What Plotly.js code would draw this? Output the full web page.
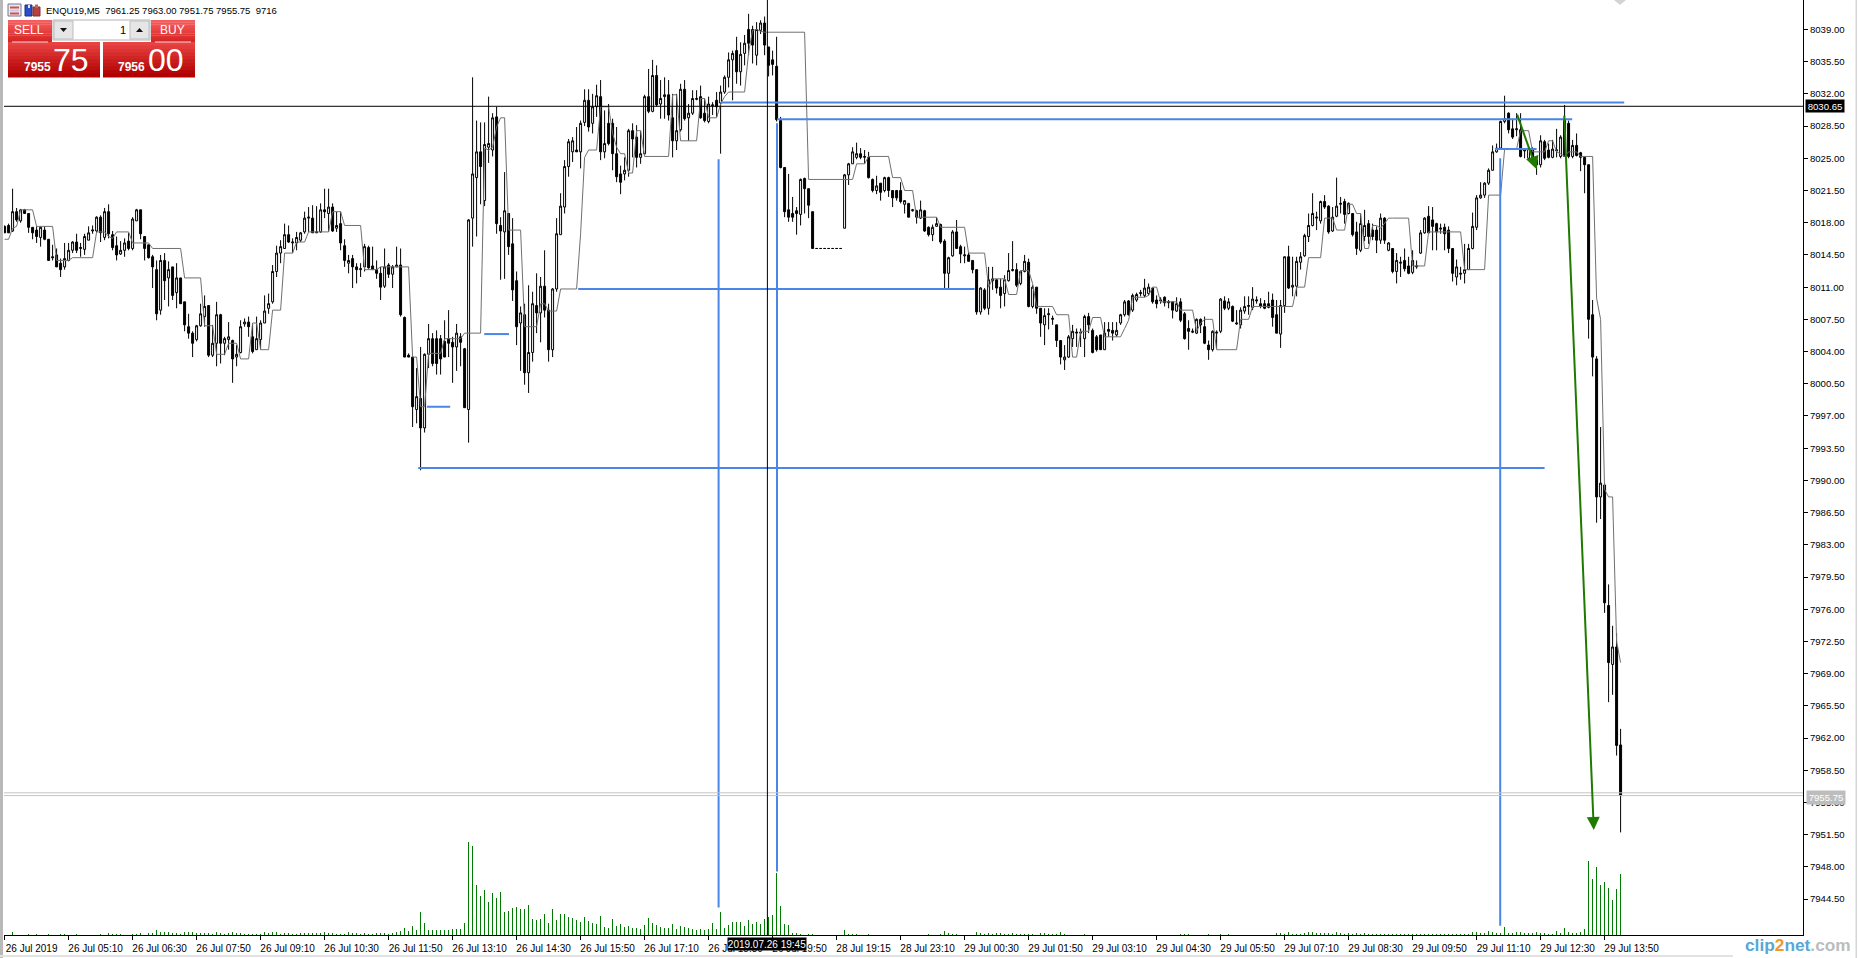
<!DOCTYPE html>
<html><head><meta charset="utf-8">
<script src="https://cdn.plot.ly/plotly-3.0.1.min.js"></script>
<style>html,body{margin:0;padding:0;background:#fff;overflow:hidden}#c{width:1858px;height:958px}</style>
</head><body><div id="c"></div>
<script>
const opens=[
8017.6,8017.7,8017.1,8019.2,8018.2,8019.4,8019,8017.5,8017.2,8016.4,
8017.2,8016.2,8014.3,8014.5,8013.6,8013.2,8013.9,8015,8015.9,8015.2,
8015.1,8016.1,8017.1,8017.1,8018.6,8016.4,8019.2,8016.7,8015.5,8014.6,
8015,8016,8015.2,8018.2,8019.4,8016.5,8015.6,8014.3,8012.9,8008.5,
8013.9,8012,8013.2,8010.4,8012,8009.4,8006.7,8006,8005.3,8006.8,
8007.8,8009,8003.6,8004.9,8008,8004.9,8005.3,8005.2,8003.4,8003.9,
8007,8007.2,8005.6,8004.2,8005.3,8007.1,8008.7,8009.4,8012.7,8014.7,
8015.2,8016.7,8015.8,8015.8,8016.1,8017,8018.5,8018.5,8016.9,8017,
8019.4,8019,8019.7,8017.4,8017.9,8015.5,8013.6,8014.1,8013.2,8012.9,
8013.2,8015.3,8013.3,8012.9,8012.5,8011.1,8013.4,8012.4,8013.2,8013.4,
8007.7,8003.6,8003.4,7997.7,7998.9,7995.7,8003.7,8005.4,8005.4,8005.4,
8005.1,8005.4,8005,8004.5,8005.6,8004.3,7997.7,8018.5,8022.9,8025.7,
8020.4,8026.2,8025.9,8029.5,8017.7,8017,8019,8015.7,8011.7,8007.1,
8008,8001.7,8003.9,8009,8008.2,8011.1,8008.5,8004.2,8010.8,8016.7,
8019.7,8024.1,8025.7,8025.9,8025.7,8028.9,8031.3,8028.8,8030.6,8031.7,
8025.7,8028.8,8028.8,8025.5,8023.3,8023.3,8023.7,8028,8027.3,8025.1,
8025.5,8031.7,8030.1,8034,8030.9,8031.7,8031.9,8029.4,8026.9,8028.1,
8032.5,8029.4,8029.9,8031.4,8031.7,8029.9,8029,8030.7,8031.3,8031,
8032.2,8033.8,8035.7,8036.7,8034.4,8036.4,8039,8039,8036.2,8038.9,
8039.7,8037.1,8035.7,8035,8029.1,8024,8019.4,8019,8019.3,8018.9,
8022.8,8021.7,8019.2,8015.2,8015.2,8015.2,8015.2,8015.2,8015.2,8015.2,
8017.4,8023.2,8024.4,8025.1,8025.5,8025.1,8025.1,8022.7,8021.5,8022.3,
8021.5,8022.9,8021.5,8021.5,8021.5,8020,8020.1,8019.3,8019.3,8018.5,
8019.3,8017.5,8016.7,8017.6,8017.8,8016,8012.5,8014.4,8017,8015.4,
8014.4,8014.5,8013.9,8012.9,8008.3,8010.7,8008.7,8011.7,8011.8,8011,
8010.3,8011.7,8012.8,8012.9,8011.4,8012.7,8013.7,8008.9,8011,8008.7,
8006.9,8008,8007.5,8006.9,8005.2,8003.1,8003.4,8005.4,8006,8006,
8005.4,8007.8,8006.3,8005.6,8005.8,8004.2,8006.4,8006.3,8005.8,8007.1,
8008,8009.5,8008.5,8009.6,8010.3,8010.1,8010.3,8010.9,8009.6,8009.5,
8009.9,8009.3,8009.4,8008.4,8009.4,8008.1,8006.5,8006.1,8006,8007.5,
8006.7,8004.7,8004.2,8006,8006.2,8009.5,8008.7,8008.9,8007,8006.9,
8008.4,8008.9,8008.8,8009.5,8009.2,8009.2,8009.2,8009.6,8008,8005.9,
8009,8014.3,8011,8011.1,8013.7,8014.4,8016.5,8017.7,8018.5,8018.2,
8020.3,8019.8,8017.1,8018.7,8020,8020.3,8019,8019,8017,8015,
8016.5,8017.9,8017.2,8017.2,8016.1,8018.5,8015,8015.2,8012.7,8013.6,
8013.9,8013.3,8012.6,8013.2,8014.7,8016.9,8018.7,8018.3,8017.9,8017.3,
8017.5,8017.2,8015.2,8012.1,8012.4,8012.5,8012.9,8015.2,8017.5,8020.7,
8021,8022.3,8023.7,8025.7,8026.1,8029,8029.9,8028.2,8028.1,8028.1,
8025.8,8025,8025.9,8024.8,8024.3,8026.8,8025.9,8025.1,8025.8,8025.2,
8029.1,8028.8,8025.2,8026.4,8025.6,8025.1,8024.3,8008,8003.2,7988.2,
7989.5,7976.4,7970,7971.9,7961.25];
const highs=[
8017.7,8017.9,8021.7,8019.6,8019.5,8019.5,8019,8017.5,8017.6,8017.6,
8017.6,8016.2,8015.6,8015.2,8014.1,8015.8,8015.8,8016,8016.8,8015.8,
8016.8,8017.6,8017.7,8018.7,8018.8,8019.6,8020,8017.1,8016.5,8016,
8016.3,8016.9,8018.6,8019.5,8019.4,8016.5,8015.6,8014.5,8013.9,8014.5,
8014.7,8013.8,8013.2,8013.6,8012,8009.4,8008.1,8006.2,8006.9,8009.2,
8010.1,8009,8006.9,8009.4,8008.1,8005.6,8007.2,8005.3,8004.7,8007.4,
8007.6,8007.8,8007,8007.8,8007.4,8010.1,8010.3,8013.4,8015.5,8016.1,
8017.9,8017.7,8016.3,8017,8017,8019.2,8019.7,8019.9,8019.8,8020.1,
8021.7,8021.7,8020.1,8019.2,8019.2,8016.2,8014.5,8014.5,8013.6,8013.6,
8015.7,8015.5,8015.4,8013.9,8013.2,8015.2,8013.6,8013.4,8015.4,8015.2,
8007.8,8003.8,8003.4,8002.2,8004.5,8003.8,8007,8006,8006.3,8005.8,
8007.4,8008.5,8005.6,8007,8006,8004.4,8018.4,8033.8,8029.1,8028.9,
8028.9,8031.7,8029.9,8030.6,8018.6,8023.5,8019,8018.5,8012.7,8008.9,
8009.2,8011.2,8010.5,8012.5,8012.1,8015,8009.2,8010.9,8018.5,8021.2,
8024.8,8027.1,8027.3,8028.4,8029.1,8032.5,8032.5,8032,8033,8033.5,
8030.2,8030.9,8029.3,8028.4,8024.2,8025.1,8028.2,8028.8,8028.6,8028,
8031.9,8034.7,8035.7,8035.1,8033.5,8033.8,8033.5,8032,8032,8033.1,
8033.5,8030.9,8032.4,8032.4,8032.9,8031.5,8031.7,8031.1,8032.2,8032.9,
8034,8036.5,8036.7,8038.2,8037.6,8038.4,8040.7,8039.4,8039.8,8040,
8040.4,8037.1,8036.7,8038.2,8029.5,8024,8023.3,8020.8,8019.7,8022.8,
8022.9,8021.7,8019.2,8015.2,8015.2,8015.2,8015.2,8015.2,8015.2,8015.2,
8023.3,8024.5,8026.2,8026.7,8026.1,8025.9,8025.7,8022.8,8023.1,8022.3,
8023,8023,8021.5,8021.5,8022.4,8020.4,8020.1,8019.5,8019.4,8020.4,
8019.4,8017.6,8017.8,8018.6,8017.9,8016.2,8014.3,8017.2,8018.3,8015.6,
8015.4,8014.8,8013.9,8012.9,8011,8010.9,8013.2,8013.2,8011.9,8011.9,
8012.3,8014.7,8016,8013.6,8012.8,8014.5,8014.1,8011.2,8011,8008.7,
8008.7,8008.7,8007.9,8006.9,8005.2,8004.7,8005.8,8006.9,8006.5,8006.5,
8008,8008.2,8006.5,8005.8,8005.8,8007.2,8007.2,8007.2,8007.2,8008.1,
8009.6,8009.6,8010.3,8010.4,8010.7,8011.9,8011.4,8011,8010.1,8009.9,
8010,8009.6,8009.4,8009.9,8009.8,8008.3,8007.4,8006.5,8007.6,8007.6,
8007.8,8005.2,8006.3,8006.3,8009.8,8010,8009.8,8009,8008.5,8008.8,
8010,8010,8011,8010,8009.8,8009.6,8010.5,8010.3,8009.6,8009.6,
8014.3,8015.5,8014.3,8014.3,8014.8,8016.8,8019,8021.2,8019.2,8020.4,
8021,8019.9,8019.7,8022.9,8020.8,8020.6,8020.2,8019,8018.1,8019,
8019.4,8018.3,8017.9,8017.6,8019,8018.6,8015.9,8015.2,8014.7,8014.3,
8015.2,8014.3,8015,8013.9,8017.2,8018.6,8019.8,8019.7,8018,8017.9,
8017.9,8017.6,8015.2,8014,8013.2,8015.7,8015.7,8019.1,8021,8022.4,
8022.4,8023.9,8026.4,8026.6,8029.1,8031.8,8030,8029.3,8029.9,8029.9,
8026.1,8026.2,8026.2,8024.8,8027.5,8027,8026.6,8027,8028.2,8027.5,
8030.8,8029.1,8027,8027.7,8025.7,8025.2,8024.3,8009.6,8003.5,7995.8,
7989.7,7978.7,7974.2,7973.4,7963];
const lows=[
8016.9,8016.9,8017,8018.1,8018,8019,8016.9,8016.2,8015.8,8015.4,
8016.1,8013.9,8013.9,8013.2,8012.1,8012.9,8013.8,8014.7,8014.7,8014.3,
8014.5,8016.1,8016.8,8017,8015.9,8016.1,8016.3,8015,8013.9,8014.5,
8014.3,8015,8015,8018.2,8016.2,8013.9,8014.1,8010.9,8007.4,8008,
8009.6,8008.9,8009.6,8008.7,8009.2,8006.2,8005.4,8003.4,8005.1,8006.7,
8006.7,8003.4,8003.4,8002.4,8002.7,8003.6,8004.2,8000.6,8002.4,8003.8,
8006.7,8005.6,8003.8,8004.2,8004.2,8007.1,8008.1,8009.2,8012.1,8013.6,
8015.2,8015.8,8014.7,8015,8015.9,8016.8,8017,8016.9,8016.9,8016.9,
8018.5,8017,8017,8017,8015,8013.2,8012.5,8010.9,8011.4,8012.1,
8012.7,8013,8012.9,8011.9,8009.6,8010.9,8012,8010.9,8013.2,8007.8,
8003.4,8003.4,7995.8,7996.2,7991.1,7995.2,8002.2,8002.4,8001.5,8001.5,
8003.4,8003.4,8000.6,8001.9,8002.4,7997.9,7994.1,8015.4,8016.5,8020,
8019.8,8024.5,8025.2,8016.8,8011.8,8011.9,8014.5,8009.5,8004.7,8001.9,
8000.4,7999.5,8002.9,8006,8005,8007.7,8002.9,8003.4,8010.5,8016.7,
8019,8023,8024.6,8025.7,8023.9,8028.5,8027.9,8027.7,8029.5,8024.8,
8025,8026.4,8023.7,8022.4,8021.1,8022.6,8023,8025.1,8024,8024.4,
8025.3,8029.9,8030,8030.6,8029.3,8029.3,8029.1,8025.1,8025.9,8027.9,
8029.1,8026.9,8029.7,8031.3,8029.3,8028.9,8028.8,8029.7,8029.5,8025.5,
8032,8032.7,8031.3,8033.1,8032.9,8035.1,8036.2,8035.3,8035.1,8038.5,
8036.2,8033.9,8034,8029,8023.9,8018.6,8018.1,8018.1,8016.7,8017.7,
8019,8018.5,8015.2,8015.2,8015.2,8015.2,8015.2,8015.2,8015.2,8015.2,
8017.4,8022.1,8024.4,8024.9,8024.9,8024.4,8022.8,8021.3,8021.1,8020.4,
8021.3,8020.8,8019.7,8020.4,8020.1,8019,8018.6,8019.2,8017.9,8018.4,
8017,8016.5,8016,8017.6,8015.7,8010.9,8010.9,8014.3,8015.2,8013.6,
8013.6,8013.8,8012.5,8008,8008,8008.5,8008,8010.7,8010.3,8008.7,
8008.9,8011.6,8012.7,8011,8011.2,8012.6,8008.8,8008.7,8008.1,8005.6,
8004.7,8006.4,8006.9,8004.5,8002.6,8002,8003.3,8004.5,8004.5,8004.5,
8003.4,8006,8003.8,8004,8004.2,8004.2,8005.6,8005.2,8005.6,8006.9,
8007.8,8007.9,8008.3,8009.4,8010,8009.9,8010.1,8009.2,8008.7,8009.2,
8008.9,8008.7,8007.6,8008.3,8007.2,8005.3,8004.2,8006,8005.9,8006,
8004.8,8003.1,8004,8004.3,8006,8008.5,8008.5,8007.2,8006.9,8006.5,
8008.1,8008,8008.5,8009.2,8008.7,8008.6,8008.7,8006.7,8006,8004.4,
8008.2,8010.8,8010,8010,8012.9,8014.3,8015.9,8017.6,8017.2,8017.9,
8019.5,8016.8,8017,8018.6,8019,8017.9,8018.9,8016.5,8014.5,8014.8,
8016,8015.7,8016.1,8014.7,8015.7,8015.7,8014.9,8012.5,8011.4,8012.1,
8012.7,8012.4,8012.4,8013,8014.6,8016.8,8016.8,8015,8015,8016.8,
8015,8014.7,8011.6,8011.2,8011.8,8011.4,8012.9,8015.1,8017.2,8020.6,
8020.7,8022.1,8023.7,8025.6,8025.9,8028.8,8027.7,8027.1,8027.4,8025.1,
8025,8024.9,8024.5,8023.2,8024,8024.8,8025,8025,8025.1,8025,
8025.2,8025,8025,8025.2,8023.6,8021.2,8005.4,8001.3,7985.4,7985.8,
7975.6,7965.9,7966.7,7960.1,7951.75];
const closes=[
8016.9,8016.9,8019.2,8018.3,8019.4,8019,8017.5,8016.9,8016.5,8017.5,
8016.2,8013.9,8014.2,8013.2,8012.9,8014.1,8015,8015.9,8015,8015.3,
8016.5,8016.9,8017.2,8018.6,8016.9,8019.2,8016.8,8015.3,8014.5,8015,
8015.8,8015.2,8018.4,8019.4,8016.8,8015.2,8014.2,8013.2,8008.1,8013.9,
8011.7,8012.9,8010.1,8012,8009.2,8006.9,8006,8004.9,8006.8,8008.1,
8008.9,8003.6,8004.9,8008,8004.9,8005.4,8005.6,8003.2,8003.7,8006.7,
8007.2,8006.7,8004,8005.4,8007.1,8008.4,8009.2,8012.7,8014.7,8015.4,
8016.7,8015.9,8015.9,8016.4,8016.9,8018.5,8018.6,8016.9,8017,8019.4,
8019.2,8019.7,8017.1,8017.7,8015.8,8013.9,8013.9,8013.2,8012.9,8013,
8015.4,8013.1,8012.9,8012.5,8011,8013.2,8012.4,8013.2,8013.4,8008,
8003.4,8003.4,7998,7999.1,7995.7,8003.7,8005.4,8002.7,8002.7,8003.2,
8003.4,8004.9,8004.5,8006,8005,7997.9,8018.3,8023.3,8025.7,8024.1,
8026.5,8026.6,8029.4,8017.9,8017.1,8019.3,8015.4,8010.7,8006.7,8008.2,
8001.7,8003.9,8009.2,8008.2,8011.1,8008.5,8004.2,8010.8,8016.8,8019.8,
8024.1,8026.8,8026.9,8025.7,8028.8,8031.3,8028.4,8030.6,8031.8,8025.7,
8026.6,8026.6,8025.5,8023,8022.4,8023.7,8028,8027.1,8025.1,8025.5,
8031.7,8030.1,8034,8030.8,8031.5,8031.9,8029.7,8026.9,8028,8032.5,
8029.3,8029.9,8031.5,8031.5,8029.4,8029.1,8030.9,8030.8,8030.6,8032.2,
8033.8,8035.7,8036.4,8034.4,8036.3,8037.5,8037.5,8037.3,8039,8039.7,
8037.3,8035.1,8035.2,8029.2,8024,8019.2,8018.6,8018.6,8019,8022.7,
8021.7,8019.9,8015.2,8015.2,8015.2,8015.2,8015.2,8015.2,8015.2,8015.2,
8023.2,8024.4,8025.7,8025.5,8025.1,8025.2,8022.9,8021.5,8022,8021.3,
8022.9,8021.5,8020.7,8020.7,8020.3,8020.4,8018.6,8019.4,8018.6,8019.4,
8017.1,8016.7,8017.5,8017.9,8015.9,8012.5,8014.2,8017,8015.2,8014.6,
8014.5,8013.8,8012.9,8008.3,8010.9,8008.7,8011.8,8011.9,8010.9,8010.1,
8011.8,8012.8,8012.9,8011.2,8012.7,8013.8,8008.9,8011,8008.7,8007.1,
8007.9,8008.1,8007.6,8005.2,8003.4,8003.4,8005.6,8006.2,8006.1,8006.1,
8007.8,8006.9,8003.9,8004.2,8004.2,8006,8006.2,8006,8006.3,8008,
8009.4,8008,8010.1,8010.2,8010.4,8010.9,8011,8009.4,8009.2,8009.6,
8009.3,8009.4,8008.5,8009.2,8007.4,8005.4,8006.2,8006.2,8007.5,8006.9,
8004.9,8004.2,8006.2,8006.1,8009.7,8008.7,8009.4,8007.3,8007.1,8008.5,
8008.9,8009,8009.7,8009.6,8008.9,8008.7,8008.8,8007.7,8006,8009,
8014.3,8010.9,8011.2,8013.8,8014.3,8016.6,8017.7,8019,8018.6,8020.3,
8019.7,8017,8018.6,8019.8,8020.1,8018.9,8020.1,8016.7,8015.2,8017.9,
8017.7,8016.5,8016.5,8016.1,8018.5,8016.1,8015.8,8012.7,8013.9,8013.7,
8013,8012.5,8013.9,8013.3,8016.9,8018.5,8016.9,8017.6,8017,8017.4,
8016.8,8015.2,8012.5,8013.2,8012.5,8012.9,8015.2,8017.6,8020.7,8021,
8022.3,8023.7,8025.7,8026.1,8029,8029.3,8028.1,8027.3,8028.2,8025.2,
8025.9,8026.1,8024.6,8024.3,8026.9,8025,8025.1,8026,8025.9,8027.3,
8025.2,8025.2,8026.4,8025.3,8025.1,8024.3,8007.5,8003.4,7988.2,7989.7,
7976.7,7970.2,7971.9,7961.2,7955.75];
const centerLine=[
8016.2,8016.2,8017.4,8017.6,8019.4,8019.4,8019.4,8019.4,8017.6,8017.6,
8017.6,8017.6,8017.6,8013.9,8013.9,8013.9,8013.9,8014.2,8014.2,8014.2,
8014.2,8014.2,8014.2,8017,8017,8017,8016.5,8016.3,8017,8017,
8017,8017,8015.8,8015.8,8015.8,8015.8,8015.8,8015.2,8015.2,8015.2,
8015.2,8015.2,8015.2,8015.2,8015.2,8012,8012,8012,8012,8012,
8006.8,8006.8,8006.8,8003.7,8003.7,8003.7,8004.9,8004.9,8004.9,8003.2,
8003.2,8003.2,8007.1,8007.1,8004.2,8004.2,8004.2,8008.5,8008.5,8008.5,
8014.7,8014.7,8014.7,8015.9,8015.9,8015.9,8017,8017,8017,8017,
8017,8017,8019.2,8019.2,8019.2,8017.7,8017.7,8017.7,8017.7,8017.7,
8012.9,8012.9,8012.9,8012.9,8013.2,8013.2,8013.2,8013.2,8013.2,8013.2,
8013.2,8013.2,8003.4,8003.4,7998,7998,8003.8,8003.8,8003.8,8003.8,
8005.4,8005.4,8005.4,8005.4,8005.4,8006,8006,8006,8006,8006,
8026.1,8025.9,8026.2,8028.4,8029.4,8029.4,8017.2,8017.2,8017.2,8017.2,
8006.7,8006.7,8006.7,8006.7,8009.2,8009.2,8008.4,8008.4,8008.4,8010.8,
8010.8,8010.8,8010.8,8010.8,8016.8,8025.1,8025.9,8025.9,8025.9,8030.6,
8030.6,8030.6,8027.7,8026.2,8025.5,8025.5,8023.4,8023.4,8028,8028,
8025.2,8025.2,8025.2,8025.2,8025.2,8025.2,8025.2,8031.9,8031.9,8026.9,
8026.9,8026.9,8026.9,8026.9,8031.5,8031.5,8029.4,8029.4,8029.4,8030.9,
8031.7,8032.2,8032.2,8032.2,8032.2,8032.2,8036.5,8038.9,8039,8038.8,
8038.7,8038.7,8038.7,8038.7,8038.7,8038.7,8038.7,8038.7,8038.7,8038.7,
8038.7,8022.7,8022.7,8022.7,8022.7,8022.7,8022.7,8022.7,8022.7,8022.7,
8022.7,8022.7,8022.7,8024.4,8024.4,8024.4,8025.2,8025.2,8025.2,8025.2,
8025.2,8025.2,8022.9,8022.9,8022.9,8021.5,8021.5,8021.5,8018.6,8018.6,
8018.6,8018.6,8018.6,8018.6,8017.5,8017.5,8017.5,8017.5,8017.5,8017.5,
8017.5,8014.7,8014.7,8014.7,8014.7,8014.7,8011,8011.9,8011.9,8011.9,
8011.9,8010.2,8010.2,8010.2,8012.8,8012.8,8012.8,8011.4,8008.9,8008.9,
8008.9,8008.9,8008.9,8008,8008,8008,8008,8003.4,8003.4,8006.2,
8006.2,8006.2,8007.7,8007.7,8007.7,8005.6,8005.6,8005.6,8005.6,8005.6,
8006.5,8007.4,8009.9,8009.9,8009.9,8009.9,8010.1,8011,8011,8009.4,
8009.4,8009.4,8009.4,8009.4,8008.5,8008.5,8008.5,8008.5,8006.2,8007.1,
8007.5,8007.5,8007.5,8004.2,8004.2,8004.2,8004.2,8004.2,8004.2,8007.5,
8007.5,8007.5,8008.9,8008.9,8008.9,8008.9,8008.9,8008.9,8008.9,8008.9,
8008.9,8008.9,8008.9,8011,8011,8011,8014.2,8014.2,8014.2,8014.2,
8018.5,8018.5,8018.5,8017.2,8017.2,8017.2,8020,8020,8019,8019,
8015.2,8015.2,8017.7,8017.7,8017.4,8017.9,8018.5,8018.5,8018.5,8018.5,
8018.5,8018.5,8013.3,8013.3,8013.3,8013.3,8017,8017,8017,8017,
8017,8017,8017,8017,8017,8012.9,8012.9,8012.9,8012.9,8012.9,
8012.9,8021,8021,8021,8021,8026,8026,8026,8026,8028,
8028,8028,8025.7,8025.7,8025.7,8025.7,8026.9,8026.9,8025.7,8025.5,
8025.2,8025.7,8025.7,8025.7,8025.2,8025.2,8025.2,8025.2,8009.8,8007.5,
7989,7988.2,7988.2,7972.5,7970.2];
const volumes=[
0,0,9,0,0,0,3,0,2,0, 0,2,0,0,3,3,0,0,3,0, 0,0,0,0,3,0,6,3,3,3, 0,0,4,4,5,0,5,5,15,10,
8,8,6,6,4,8,10,10,6,6, 6,6,4,8,6,3,5,8,6,6, 4,3,3,3,2,8,6,8,8,4, 6,6,3,4,5,5,5,5,5,5,
8,6,5,3,3,3,8,5,5,3, 5,3,3,5,5,5,4,6,10,12, 20,12,26,14,68,35,14,14,14,14,
15,15,18,18,18,36,279,267,150,117, 135,100,126,111,129,69,72,81,84,78, 78,90,48,45,48,63,36,78,45,63,
63,54,51,45,39,54,42,36,33,57, 24,21,48,27,33,24,27,21,21,18, 30,51,36,30,24,21,21,33,18,27,
24,21,18,15,18,15,18,36,18,69, 21,30,39,39,39,27,45,33,39,33, 48,54,60,186,87,33,30,6,6,3,
0,3,3,0,0,0,0,0,0,0, 15,3,3,3,0,0,3,0,0,0, 0,0,0,0,0,0,0,0,0,0, 0,2,0,0,3,12,6,4,3,0,
0,0,0,9,6,3,6,3,6,6, 3,3,6,3,3,3,3,3,0,6, 6,3,3,3,9,3,0,0,0,0, 3,0,0,0,0,0,0,0,0,0,
1,0,0,0,0,0,0,0,0,0, 0,0,0,0,3,3,3,0,0,0, 0,3,0,0,3,0,3,0,0,0, 0,0,0,0,0,0,0,0,6,6,
3,9,3,3,3,6,9,9,6,6, 6,6,3,9,6,3,6,3,6,3, 6,2,3,3,3,3,3,3,3,3, 3,3,3,3,3,2,3,3,3,3,
3,3,3,3,3,3,3,9,9,6, 6,12,9,6,6,24,6,6,9,9, 6,6,6,9,6,6,3,3,12,6, 21,9,6,6,9,18,222,168,204,150,
159,141,105,138,183];
const priceTicks=[8039,8035.5,8032,8028.5,8025,8021.5,8018,8014.5,8011,8007.5,8004,8000.5,7997,7993.5,7990,7986.5,7983,7979.5,7976,7972.5,7969,7965.5,7962,7958.5,7955,7951.5,7948,7944.5];
const timeTickBars=[0,16,32,48,64,80,96,112,128,144,160,176,192,208,224,240,256,272,288,304,320,336,352,368,384,400];
const timeTickLabels=["26 Jul 2019","26 Jul 05:10","26 Jul 06:30","26 Jul 07:50","26 Jul 09:10","26 Jul 10:30","26 Jul 11:50","26 Jul 13:10","26 Jul 14:30","26 Jul 15:50","26 Jul 17:10","26 Jul 18:30","26 Jul 19:50","28 Jul 19:15","28 Jul 23:10","29 Jul 00:30","29 Jul 01:50","29 Jul 03:10","29 Jul 04:30","29 Jul 05:50","29 Jul 07:10","29 Jul 08:30","29 Jul 09:50","29 Jul 11:10","29 Jul 12:30","29 Jul 13:50"];

const bars=opens.map((_,i)=>i);
const W=1858,H=958,L=4,R=1803,B=935;
const FONT='"Liberation Sans",Arial,sans-serif';
const px=x=>(x-L)/(R-L), py=y=>1-y/B;
const BLUE='#4a86e8',GREEN='#1f7a00',GREY='#c4c4c4';
const shapes=[],ann=[];
function hl(p,i0,i1,c,w){shapes.push({type:'line',xref:'x',yref:'y',x0:i0,x1:i1,y0:p,y1:p,line:{color:c,width:w}});}
function vl(i,p0,p1,c,w){shapes.push({type:'line',xref:'x',yref:'y',x0:i,x1:i,y0:p0,y1:p1,line:{color:c,width:w}});}
function box(x0,y0,x1,y1,fill,lc){shapes.push({type:'rect',xref:'paper',yref:'paper',x0:px(x0),x1:px(x1),y0:py(y0),y1:py(y1),fillcolor:fill,line:{width:lc?1:0,color:lc||'rgba(0,0,0,0)'}});}
function poly(pts,fill){const d='M'+pts.map(p=>px(p[0])+','+py(p[1])).join('L')+'Z';shapes.push({type:'path',xref:'paper',yref:'paper',path:d,fillcolor:fill,line:{width:0}});}
function txt(x,y,t,size,color,anchor,extra){ann.push(Object.assign({xref:'paper',yref:'paper',x:px(x),y:py(y),text:t,showarrow:false,xanchor:anchor||'center',yanchor:'middle',font:{family:FONT,size:size,color:color},borderpad:0},extra||{}));}
function grad(x0,y0,x1,y1,c0,c1){const n=10;for(let k=0;k<n;k++){const t=k/(n-1);const c='rgb('+c0.map((v,j)=>Math.round(v+(c1[j]-v)*t)).join(',')+')';box(x0,y0+(y1-y0)*k/n,x1,y0+(y1-y0)*(k+1)/n+0.4,c);}}

/* blue analysis lines */
hl(8031.05,179.1,404.9,BLUE,2);
hl(8029.24,193.1,391.9,BLUE,2);
hl(8010.8,143.4,242.5,BLUE,2);
hl(7991.35,103.4,385,BLUE,2);
hl(7998,105.6,111.4,BLUE,2);
hl(8005.9,119.9,126.1,BLUE,2);
hl(8026,372.6,383,BLUE,2);
vl(178.5,8024.9,7943.6,BLUE,2);
vl(193.1,8028.8,7947.5,BLUE,2);
vl(373.9,8025,7941.6,BLUE,2);
/* bid / ask lines */
shapes.push({type:'line',xref:'paper',yref:'y',x0:0,x1:1,y0:7956.05,y1:7956.05,line:{color:GREY,width:1}});
shapes.push({type:'line',xref:'paper',yref:'y',x0:0,x1:1,y0:7955.75,y1:7955.75,line:{color:GREY,width:1}});
/* crosshair */
shapes.push({type:'line',xref:'paper',yref:'y',x0:0,x1:1,y0:8030.65,y1:8030.65,line:{color:'#000',width:1}});
vl(190.7,8042.2,7940.6,'#000',1);
/* window edges */
box(0,0,3,958,'#b9b9b9');
box(1855.5,0,1857,958,'#d6d6d6');
box(0,955,1733,957,'#e2e2e2');
poly([[1614,0],[1626,0],[1620,5]],'#d4d4d4');

/* arrows */
ann.push({xref:'x',yref:'y',axref:'x',ayref:'y',x:383,y:8023.8,ax:378,ay:8029.9,text:'',showarrow:true,arrowhead:2,arrowsize:1.3,arrowwidth:2,arrowcolor:GREEN,standoff:0});
ann.push({xref:'x',yref:'y',axref:'x',ayref:'y',x:397.3,y:7952,ax:389.9,ay:8029.8,text:'',showarrow:true,arrowhead:2,arrowsize:1.3,arrowwidth:2,arrowcolor:GREEN,standoff:0});

/* tags on axes */
txt(1825,106,'8030.65',9.6,'#fff','center',{bgcolor:'#000',width:38,height:12});
txt(1826,797,'7955.75',9.6,'#fff','center',{bgcolor:'#bdbdbd',width:38,height:13});
txt(767,943.5,'2019.07.26 19:45',10,'#fff','center',{bgcolor:'#000',width:78,height:12});

/* header */
box(8,4,21,16,'#e9e9ee','#6c7a92');
box(10,6.5,19,8.5,'#d05050');box(10,9.5,19,11.5,'#c8c8e8');box(10,12.5,19,14.5,'#d05050');
box(25,5,32,16,'#2a4fc8','#1a2f80');box(33,7,40,16,'#b84040','#803030');box(28,5,30,8,'#dfe6f8');box(35,4.5,38,8,'#c06060');
txt(45,10.5,'ENQU19,M5&nbsp;&nbsp;7961.25 7963.00 7951.75 7955.75&nbsp;&nbsp;9716',9.5,'#000','left');

/* trade panel */
grad(8,20,52,42,[247,92,92],[214,38,38]);
grad(151,20,195,42,[247,92,92],[214,38,38]);
grad(8,42,100,77,[232,66,66],[176,0,0]);
grad(103,42,195,77,[232,66,66],[176,0,0]);
box(53,20,150,40,'#ffffff','#b4b4b4');
box(54,21,73,39,'#e6e6e6','#bdbdbd');
box(130,21,149,39,'#e6e6e6','#bdbdbd');
poly([[60,28],[67,28],[63.5,32]],'#111');
poly([[136,32],[143,32],[139.5,28]],'#111');
box(12,41.4,48,42.4,'#fbd4d4');
box(155,41.4,191,42.4,'#fbd4d4');
txt(29,30.5,'SELL',12,'#fff');
txt(172,30.5,'BUY',12,'#fff');
txt(127,30,'1',11,'#000','right');
txt(37,66.5,'7955',12,'#fff','center',{font:{family:FONT,size:12,color:'#fff',weight:'bold'}});
txt(70.5,60,'75',32,'#fff');
txt(131,66.5,'7956',12,'#fff','center',{font:{family:FONT,size:12,color:'#fff',weight:'bold'}});
txt(166,60,'00',32,'#fff');

/* logo */
txt(1798,945,'<span style="color:#5aa6d6">clip</span><span style="color:#ef9a2a">2</span><span style="color:#5aa6d6">net</span><span style="color:#bcbcbc">.com</span>',17.3,'#5aa6d6','center',{font:{family:FONT,size:17.3,color:'#5aa6d6',weight:'bold'}});

const traces=[
{type:'bar',x:bars,y:volumes,yaxis:'y2',width:0.3,marker:{color:'#007a00',line:{width:0}},hoverinfo:'skip',showlegend:false},
{type:'scatter',mode:'lines',x:bars,y:centerLine,line:{color:'#707070',width:1},hoverinfo:'skip',showlegend:false},
{type:'candlestick',x:bars,open:opens,high:highs,low:lows,close:closes,whiskerwidth:0,
 increasing:{line:{color:'#000',width:1},fillcolor:'#fff'},
 decreasing:{line:{color:'#000',width:1},fillcolor:'#000'},hoverinfo:'skip',showlegend:false}
];
const layout={
 width:W,height:H,paper_bgcolor:'#fff',plot_bgcolor:'#fff',showlegend:false,
 margin:{l:L,r:W-R,t:0,b:H-B,pad:0},
 font:{family:FONT,size:10,color:'#000'},
 xaxis:{range:[-0.15,449.6],tickmode:'array',tickvals:timeTickBars,ticktext:timeTickLabels,ticks:'outside',ticklen:4,tickcolor:'#000',tickwidth:1,
   showgrid:false,zeroline:false,showline:true,linecolor:'#000',linewidth:1,rangeslider:{visible:false},tickangle:0,ticklabelshift:27,ticklabelstandoff:0,tickfont:{family:FONT,size:10,color:'#000'},automargin:false},
 yaxis:{side:'right',range:[7940.6,8042.2],tickmode:'array',tickvals:priceTicks,ticktext:priceTicks.map(v=>v.toFixed(2)),ticks:'outside',ticklen:4,tickcolor:'#000',
   showgrid:false,zeroline:false,showline:true,linecolor:'#000',linewidth:1,tickfont:{family:FONT,size:9.6,color:'#000'},automargin:false},
 yaxis2:{overlaying:'y',side:'right',range:[0,2805],visible:false,showgrid:false,zeroline:false},
 bargap:0,shapes:shapes,annotations:ann,hovermode:false,dragmode:false
};
Plotly.newPlot('c',traces,layout,{staticPlot:true,displayModeBar:false});
</script></body></html>
